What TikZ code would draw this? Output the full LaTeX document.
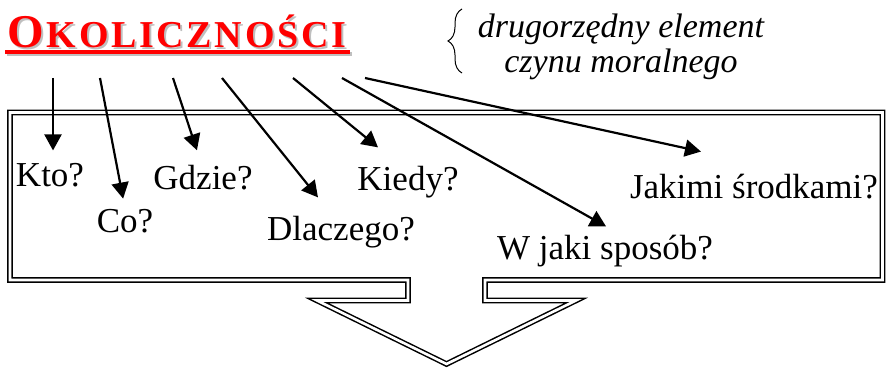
\documentclass[tikz,border=0pt]{standalone}
\usepackage{fontspec}
\setmainfont{Liberation Serif}
\usetikzlibrary{arrows.meta,decorations.pathreplacing}

\newcommand{\okol}{{\bfseries\fontsize{23.5}{28}\selectfont O\kern1.5pt\fontsize{19}{23}\selectfont\addfontfeature{LetterSpace=7}KOLICZNOŚCI}}

\begin{document}
\begin{tikzpicture}[x=0.5pt, y=-0.5pt,
	lbl/.style={inner sep=0pt, anchor=base, font=\fontsize{17.5}{21}\selectfont},
	arr/.style={-{Triangle[length=8pt, width=8.5pt]}, line width=1.1pt},
	frame/.style={double=white, double distance=1.3pt, line width=0.75pt, line join=miter}]
	\useasboundingbox (0,0) rectangle (888,369);

	% title with shadow
	\node at (9,50) [anchor=base west, inner sep=0pt, text=black!25] (shadow) {\okol};
	\node at (7,48) [anchor=base west, inner sep=0pt, text=red] (title) {\okol};
	\draw [black!25, line width=2pt] (7,54.5) -- (352,54.5);
	\draw [red, line width=2pt] (5,52.5) -- (350,52.5);

	\node at (621,47) [align=center, inner sep=0pt, font=\itshape\fontsize{17}{17.5}\selectfont] (note) {drugorzędny element\\czynu moralnego};
	\draw [decorate, decoration={brace, amplitude=7pt}, line width=0.5pt] (462,73) -- (462,9);

	% box with the arrow below
	\draw [frame] (10,112.5) -- (882.5,112.5) -- (882.5,280) -- (485,280) -- (485,300.5) -- (576,300.5) -- (446.5,364) -- (317,300.5) -- (408,300.5) -- (408,280) -- (10,280) -- cycle;

	\node at (50,186) [lbl] (kto) {Kto?};
	\node at (125,232) [lbl] (co) {Co?};
	\node at (203,189) [lbl] (gdzie) {Gdzie?};
	\node at (341,240) [lbl] (dlaczego) {Dlaczego?};
	\node at (408,190) [lbl] (kiedy) {Kiedy?};
	\node at (605,259) [lbl] (wjaki) {W jaki sposób?};
	\node at (754,198) [lbl] (jakimi) {Jakimi środkami?};

	\coordinate (s1) at (53,78);
	\coordinate (s2) at (100,78);
	\coordinate (s3) at (173,78);
	\coordinate (s4) at (222,78);
	\coordinate (s5) at (293,78);
	\coordinate (s6) at (342,78);
	\coordinate (s7) at (365,78);

	\draw [arr, shorten >=6pt] (s1) -- ([xshift=1.5pt]kto.north);
	\draw [arr, shorten >=5pt] (s2) -- (co.north);
	\draw [arr, shorten >=7.4pt] (s3) -- ([xshift=-0.7pt]gdzie.north);
	\draw [arr, shorten >=11.5pt] (s4) -- ([xshift=-4.3pt]dlaczego.north);
	\draw [arr, shorten >=14.2pt] (s5) -- ([xshift=-4pt]kiedy.north);
	\draw [arr, shorten >=8pt] (s6) -- ([xshift=7.5pt]wjaki.north);
	\draw [arr, shorten >=50.7pt] (s7) -- ([xshift=23pt]jakimi.north);
\end{tikzpicture}
\end{document}
